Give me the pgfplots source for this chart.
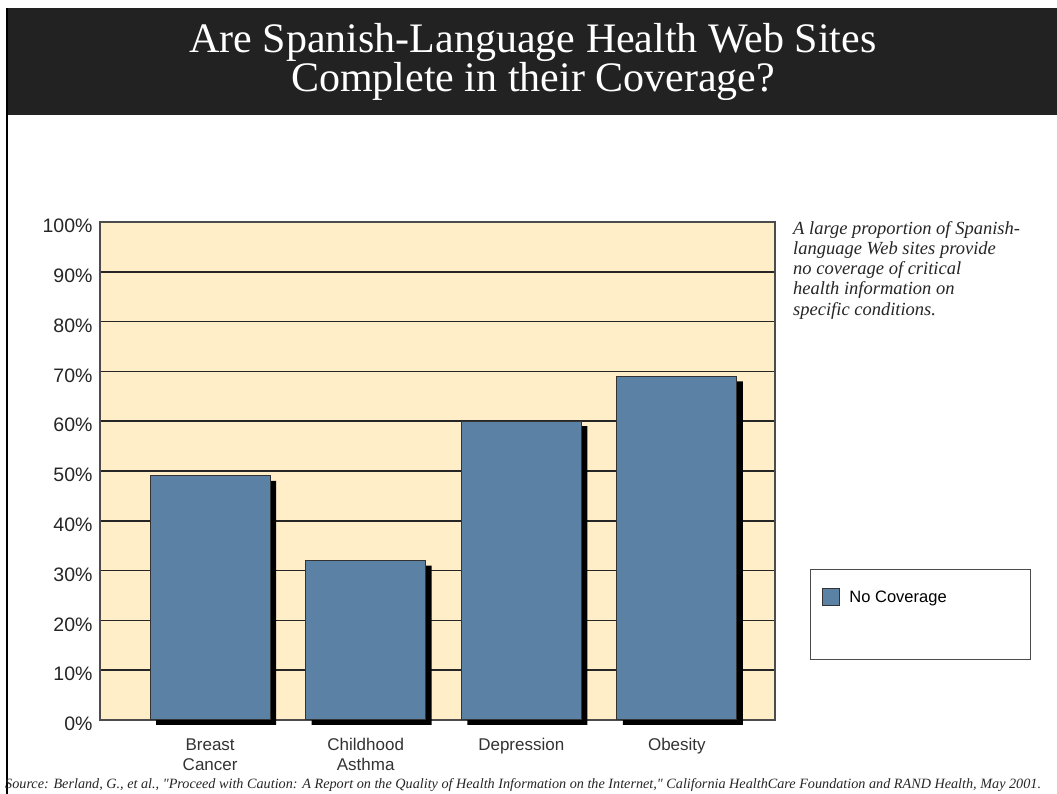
\documentclass[border=0pt]{standalone}
\usepackage{pgfplots}
\pgfplotsset{compat=1.18}
\usepackage{fontspec}
\setmainfont{Liberation Sans}
\newfontfamily\serif{Liberation Serif}
\definecolor{bg}{RGB}{255,238,200}
\definecolor{barc}{RGB}{91,130,165}
\definecolor{titlebg}{RGB}{34,34,34}
\begin{document}
\begin{tikzpicture}
\fill[white] (0pt,0pt) rectangle (1057pt,794pt);
\useasboundingbox (0pt,0pt) rectangle (1057pt,794pt);
\fill[titlebg] (6pt,679pt) rectangle (1057pt,786pt);
\draw[black, line width=2pt] (7pt,0pt) -- (7pt,786pt);
\node[white, font=\serif\fontsize{42}{38}\selectfont, align=center] at (533pt,732pt) {Are Spanish-Language Health Web Sites\\Complete in their Coverage?};
\begin{axis}[
  at={(100pt,74pt)}, anchor=south west,
  width=675pt, height=498pt, scale only axis,
  xmin=-0.708, xmax=3.631, ymin=0, ymax=100,
  ytick={0,10,...,100},
  yticklabels={0\%,10\%,20\%,30\%,40\%,50\%,60\%,70\%,80\%,90\%,100\%},
  xtick={0,1,2,3},
  xticklabels={Breast\\Cancer,Childhood\\Asthma,Depression,Obesity},
  xticklabel style={align=center, font=\fontsize{17}{20}\selectfont, yshift=-15pt, text=black!80},
  yticklabel style={font=\fontsize{19.5}{20}\selectfont, yshift=-4pt, xshift=-4pt, text=black!85},
  major tick style={draw=none},
  ymajorgrids, grid style={black!85, line width=1.6pt},
  axis background/.style={fill=bg},
  axis line style={black!70, line width=1.6pt},
  clip=false,
  legend style={at={(axis description cs:1.065,0.27)}, anchor=north west, draw=none, fill=none, font=\fontsize{16.5}{20}\selectfont},
  legend cell align=left,
]
\addplot[ybar, bar width=120pt, bar shift=6pt, fill=black, draw=none, yshift=-5pt, forget plot] coordinates {(0,49) (1,32) (2,60) (3,69)};
\addplot[ybar, bar width=120pt, bar shift=0pt, fill=barc, draw=black!80, line width=1pt,
  legend image code/.code={\draw[fill=barc, draw=black!80, line width=0.8pt] (0pt,-8pt) rectangle (17pt,9pt);\path[draw=none,fill=none] (0pt,0pt) -- (25pt,0pt);}]
  coordinates {(0,49) (1,32) (2,60) (3,69)};
\addlegendentry{No Coverage}
\end{axis}
\draw[black!70, line width=1pt] (810pt,224pt) rectangle (1030pt,134pt);
\node[anchor=north west, align=left, font=\serif\itshape\fontsize{18.5}{20.2}\selectfont, text=black!85, inner sep=0pt] at (793pt,573pt) {A large proportion of Spanish-\\language Web sites provide\\no coverage of critical\\health information on\\specific conditions.};
\node[anchor=base west, font=\serif\itshape\fontsize{14.2}{16}\selectfont, text=black!85, inner sep=0pt] at (5pt,5pt) {Source: Berland, G., et al., "Proceed with Caution: A Report on the Quality of Health Information on the Internet," California HealthCare Foundation and RAND Health, May 2001.};
\end{tikzpicture}
\end{document}
